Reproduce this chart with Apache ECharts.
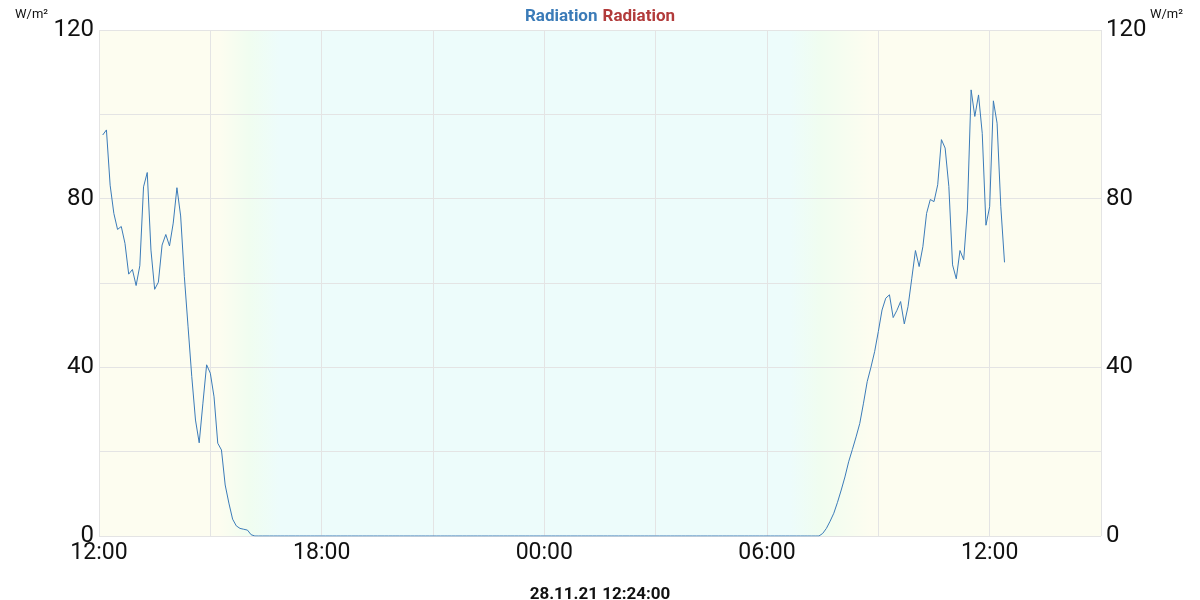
<!DOCTYPE html><html><head><meta charset="utf-8"><script src="https://cdn.jsdelivr.net/npm/echarts@6/dist/echarts.min.js"></script>
<style>body{margin:0}#c{width:1200px;height:600px}</style></head><body><div id="c"></div><script>
// minutes after 27.11.21 12:00; samples every 6 minutes from 12:06 to 12:24 next day
const startMin = 6, stepMin = 6, nPoints = 244;
const morningValues = [95.1,96.3,83.2,76.5,72.7,73.4,69.4,62.1,63.2,59.4,64.1,82.8,86.2,67.8,58.5,60.2,69,71.5,68.8,74.2,82.6,75.9,61.5,49.6,37.8,27.5,22.1,31.5,40.6,38.6,33,22,20.4,12.1,7.8,4,2.4,1.8,1.6,1.4,0.3];
const dayTwoStart = 194;
const dayTwoValues = [0.6,1.8,3.5,5.4,8,10.9,14,17.6,20.5,23.5,26.7,31.5,36.6,40,43.7,48.5,53.6,56.4,57.2,51.8,53.5,55.6,50.3,54.4,61,67.7,63.9,68.6,76.5,79.8,79.3,83.3,94,92,82.9,64.3,61,67.7,65.5,77.3,105.8,99.5,104.6,95.5,73.7,78.1,103.2,97.9,78.1,64.9];
const yTicks = [0,40,80,120];
const data = [];
for (let i = 0; i < nPoints; i++) {
  let v = 0;
  if (i < morningValues.length) v = morningValues[i];
  else if (i >= dayTwoStart) v = dayTwoValues[i - dayTwoStart];
  data.push([startMin + stepMin * i, v]);
}
const hhmm = m => { const h = (12 + Math.floor(m / 60)) % 24; return String(h).padStart(2,'0') + ':00'; };
const ch = echarts.init(document.getElementById('c'));
const yAx = pos => ({type:'value', position:pos, min:0, max:120, interval:20,
  axisLine:{show:false}, axisTick:{show:false},
  axisLabel:{fontSize:24, color:'#111', fontFamily:'Roboto', margin:5, formatter:v => yTicks.includes(v) ? String(v) : ''},
  splitLine:{show:pos==='left', lineStyle:{color:'#e4e4e4'}}});
ch.setOption({
  animation:false,
  title:[
    {text:'{a|Radiation} {b|Radiation}', left:'center', top:3, textStyle:{rich:{a:{color:'#3b7bb8',fontSize:17,fontWeight:'bold',fontFamily:'Roboto'},b:{color:'#b23b3b',fontSize:17,fontWeight:'bold',fontFamily:'Roboto'}}}},
    {text:'28.11.21 12:24:00', left:'center', top:581, textStyle:{fontSize:17,fontWeight:'bold',color:'#111',fontFamily:'Roboto'}},
    {text:'W/m²', left:10, top:3, textStyle:{fontSize:13,fontWeight:'normal',color:'#111',fontFamily:'Roboto'}},
    {text:'W/m²', right:12, top:3, textStyle:{fontSize:13,fontWeight:'normal',color:'#111',fontFamily:'Roboto'}}
  ],
  grid:{left:99, right:99, top:30, bottom:64, show:true, borderWidth:0,
    backgroundColor:new echarts.graphic.LinearGradient(0,0,1,0,[
      {offset:0,color:'#fdfdf0'},{offset:0.12,color:'#fdfdf0'},{offset:0.15,color:'#f0fdf0'},{offset:0.18,color:'#edfcfb'},
      {offset:0.69,color:'#edfcfb'},{offset:0.72,color:'#f0fdf0'},{offset:0.77,color:'#fdfdf0'},{offset:1,color:'#fdfdf0'}])},
  xAxis:{type:'value', min:0, max:1620, interval:180,
    axisLine:{show:false}, axisTick:{show:false},
    axisLabel:{fontSize:23, color:'#111', fontFamily:'Roboto', margin:6, formatter:v => v % 360 === 0 ? hhmm(v) : ''},
    splitLine:{show:true, lineStyle:{color:'#e4e4e4'}}},
  yAxis:[yAx('left'), yAx('right')],
  series:[{type:'line', data:data, showSymbol:false, lineStyle:{color:'#3b7bb8', width:1}, itemStyle:{color:'#3b7bb8'}}]
});
</script></body></html>
